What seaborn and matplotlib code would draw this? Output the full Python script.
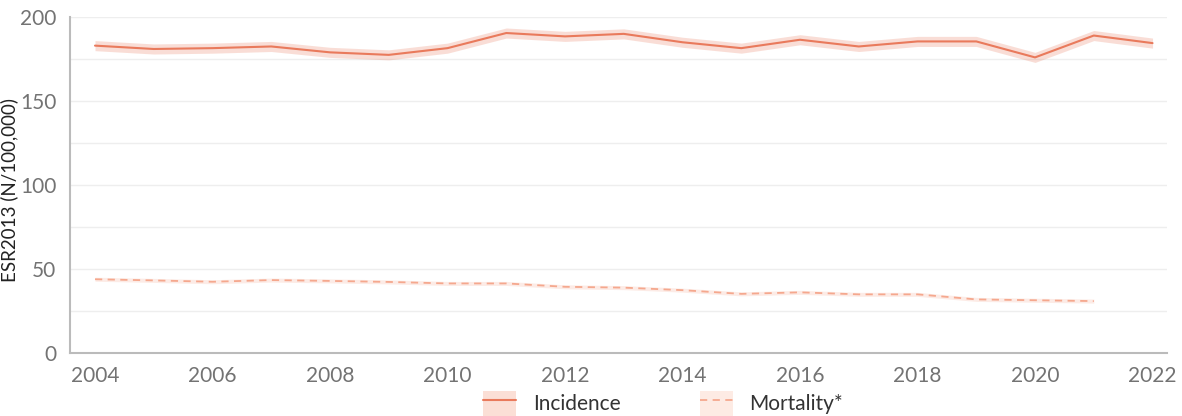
import matplotlib
matplotlib.use("Agg")
import matplotlib.pyplot as plt
from matplotlib.lines import Line2D
from matplotlib.patches import Patch
import numpy as np
import pandas as pd
import seaborn as sns

# data
years = list(range(2004, 2023))
incidence = [183, 181, 181.5, 182.5, 179, 177.5, 181.5, 190.5, 188.5, 190,
             185, 181.5, 186.5, 182.5, 185.5, 185.5, 176, 189, 184.5]
incidence_hw = [3, 3, 3, 3, 3, 3, 3, 3, 3, 3, 3, 3, 3, 3, 3, 3, 3, 3, 3]

mort_years = list(range(2004, 2022))
mortality = [44, 43.3, 42.5, 43.5, 43, 42.4, 41.5, 41.5, 39.5, 39,
             37.5, 35.3, 36.2, 35, 35, 32, 31.5, 31]
mortality_hw = [1.2, 1.2, 1.2, 1.2, 1.2, 1.2, 1.2, 1.2, 1.2, 1.2,
                1.2, 1.2, 1.2, 1.2, 1.2, 1.2, 1.2, 1.2]

inc_col = "#E97A5C"
inc_band = "#FBDFD6"
mor_col = "#F5A88E"
mor_band = "#FDEBE4"

def long_df(x, v, hw):
    rows = []
    for xi, vi, h in zip(x, v, hw):
        rows += [(xi, vi - h), (xi, vi), (xi, vi + h)]
    return pd.DataFrame(rows, columns=["year", "value"])

df_inc = long_df(years, incidence, incidence_hw)
df_mor = long_df(mort_years, mortality, mortality_hw)

sns.set_style("white")
plt.rcParams["font.family"] = ["Lato", "DejaVu Sans"]

fig = plt.figure(figsize=(11.82, 4.16), dpi=100)
ax = fig.add_axes([0.059, 0.151, 0.928, 0.808])

sns.lineplot(data=df_inc, x="year", y="value", estimator="median",
             errorbar=("pi", 100), color=inc_col, lw=1.5,
             err_kws={"alpha": 0.25, "lw": 0}, ax=ax)
sns.lineplot(data=df_mor, x="year", y="value", estimator="median",
             errorbar=("pi", 100), color=mor_col, lw=1.3, linestyle=(0, (4, 3)),
             err_kws={"alpha": 0.22, "lw": 0}, ax=ax)

ax.set_xlim(2003.57, 2022.24)
ax.set_ylim(0, 200)
ax.set_xticks(range(2004, 2023, 2))
ax.set_yticks(range(0, 201, 50))
ax.set_yticks(range(25, 200, 50), minor=True)
ax.grid(axis="y", which="both", color="#EEEEEE", lw=1)
ax.set_axisbelow(True)

for s in ["top", "right"]:
    ax.spines[s].set_visible(False)
for s in ["left", "bottom"]:
    ax.spines[s].set_color("#BBBBBB")
    ax.spines[s].set_linewidth(1.5)
ax.tick_params(axis="both", which="major", length=6, width=1.5, color="#BBBBBB",
               labelcolor="#737373", labelsize=15)
ax.tick_params(axis="x", pad=3)
ax.tick_params(axis="y", which="minor", length=0)
ax.set_xlabel("")
ax.set_ylabel("ESR2013 (N/100,000)", fontsize=13.5, color="#222222")
ax.yaxis.set_label_coords(-0.047, 0.485)

h_inc = (Patch(facecolor=inc_band, edgecolor="none"), Line2D([], [], color=inc_col, lw=1.5))
h_mor = (Patch(facecolor=mor_band, edgecolor="none"),
         Line2D([], [], color=mor_col, lw=1.3, linestyle=(0, (4, 3))))
fig.legend([h_inc, h_mor], ["Incidence", "Mortality*"], loc="lower center",
           bbox_to_anchor=(0.561, -0.045), ncol=2, frameon=False, fontsize=15,
           columnspacing=3.8, handlelength=1.6, handleheight=1.5,
           handletextpad=0.8, labelcolor="#333333")

fig.savefig("out.png", dpi=100)
